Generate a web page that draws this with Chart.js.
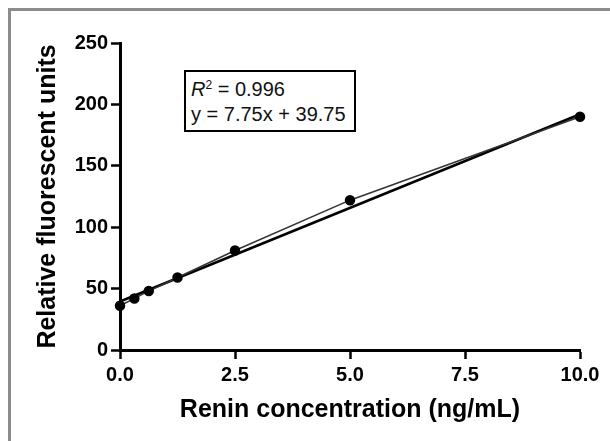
<!DOCTYPE html>
<html>
<head>
<meta charset="utf-8">
<script src="https://cdn.jsdelivr.net/npm/chart.js@4.4.0/dist/chart.umd.min.js"></script>
<style>
  html, body { margin: 0; padding: 0; background: #fff; overflow: hidden; }
  #frame { position: absolute; left: 8px; top: 8px; width: 610px; height: 441px;
           border-top: 3px solid #8c8c8c; border-left: 3px solid #8c8c8c; }
  #chart { position: absolute; left: 0; top: 0; }
  #fitbox { position: absolute; left: 184px; top: 70px; width: 163px; padding: 5px 0 3px 5px;
            border: 2px solid #000; background: #fff; color: #111;
            font: 20px "Liberation Sans", Arial, sans-serif; line-height: 25px; }
  #fitbox sup { font-size: 12px; line-height: 0; vertical-align: 7px; }
</style>
</head>
<body>
<div id="frame"></div>
<canvas id="chart" width="610" height="441"></canvas>
<div id="fitbox"><i>R</i><sup>2</sup> = 0.996<br>y = 7.75x + 39.75</div>
<script>
// renin standard curve
const concentrations = [0, 0.3125, 0.625, 1.25, 2.5, 5, 10];
const fluorescence = [36, 42, 48, 59, 81, 122, 190];
// fitted line at both ends
const fitX = [0, 10];
const fitY = [39.5, 192];
const xTicks = [0, 2.5, 5, 7.5, 10];
const yTicks = [0, 50, 100, 150, 200, 250];

const FONT = '"Liberation Sans", Arial, sans-serif';

const pointData = concentrations.map((x, i) => ({ x: x, y: fluorescence[i] }));
const fitData = fitX.map((x, i) => ({ x: x, y: fitY[i] }));

const ctx = document.getElementById('chart').getContext('2d');
new Chart(ctx, {
    type: 'scatter',
    data: {
        datasets: [{
            label: 'Measured',
            data: pointData,
            showLine: true,
            borderColor: '#333',
            borderWidth: 1.5,
            pointRadius: 4.5,
            pointBackgroundColor: '#000',
            pointBorderColor: '#000',
            clip: false
        }, {
            label: 'Fit',
            data: fitData,
            showLine: true,
            borderColor: '#000',
            borderWidth: 2.5,
            pointRadius: 0,
            clip: false
        }]
    },
    options: {
        responsive: false,
        animation: false,
        layout: { padding: { left: 0, top: 43, right: 30, bottom: 0 } },
        plugins: {
            legend: { display: false },
            tooltip: { enabled: false }
        },
        scales: {
            x: {
                type: 'linear',
                min: 0,
                max: 10,
                afterBuildTicks: scale => { scale.ticks = xTicks.map(v => ({ value: v })); },
                afterFit: scale => { scale.height = 91; },
                ticks: {
                    callback: v => Number(v).toFixed(1),
                    font: { family: FONT, size: 20, weight: 'bold' },
                    color: '#000',
                    padding: 4,
                    maxRotation: 0,
                    autoSkip: false
                },
                grid: { drawOnChartArea: false, tickLength: 9, tickColor: '#000', tickWidth: 2.5 },
                border: { color: '#000', width: 3 },
                title: {
                    display: true,
                    text: 'Renin concentration (ng/mL)',
                    font: { family: FONT, size: 25, weight: 'bold' },
                    color: '#000',
                    padding: { top: 0, bottom: 16 }
                }
            },
            y: {
                min: 0,
                max: 250,
                afterBuildTicks: scale => { scale.ticks = yTicks.map(v => ({ value: v })); },
                afterFit: scale => { scale.width = 120; },
                ticks: {
                    font: { family: FONT, size: 20, weight: 'bold' },
                    color: '#000',
                    padding: 3
                },
                grid: { drawOnChartArea: false, tickLength: 9, tickColor: '#000', tickWidth: 2.5 },
                border: { color: '#000', width: 3 },
                title: {
                    display: true,
                    text: 'Relative fluorescent units',
                    font: { family: FONT, size: 25, weight: 'bold' },
                    color: '#000',
                    padding: { top: 33, bottom: 0 }
                }
            }
        }
    }
});
</script>
</body>
</html>
